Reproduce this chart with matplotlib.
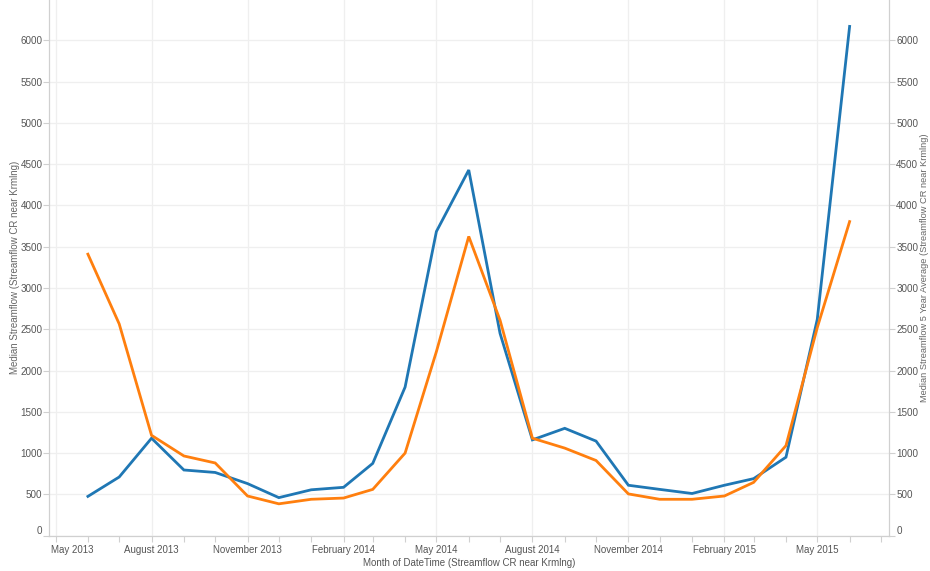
import matplotlib
matplotlib.use('Agg')
from matplotlib import pyplot as plt
import matplotlib.dates as mdates
from matplotlib.transforms import ScaledTranslation
import pandas as pd

months = pd.date_range('2013-06-01', '2015-06-01', freq='MS')

median_flow = [475, 710, 1180, 795, 765, 630, 460, 555, 585, 875, 1800, 3685,
               4430, 2450, 1160, 1300, 1145, 610, 560, 510, 610, 690, 950,
               2620, 6170]
avg_5yr = [3410, 2565, 1215, 965, 880, 480, 385, 440, 455, 560, 1000, 2230,
           3625, 2610, 1180, 1060, 910, 505, 440, 440, 480, 645, 1090, 2520,
           3805]

left_label = 'Median Streamflow (Streamflow CR near Krmlng)'
right_label = 'Median Streamflow 5 Year Average (Streamflow CR near Krmlng)'
x_label = 'Month of DateTime (Streamflow CR near Krmlng)'
y_ticks = list(range(0, 6001, 500))

plt.rcParams['font.family'] = ['Liberation Sans', 'DejaVu Sans']

fig = plt.figure(figsize=(9.3, 5.71), dpi=100)
ax = fig.add_axes([0.053, 0.062, 0.9032, 0.938])
ax2 = ax.twinx()

grid_c = '#efefef'
axis_c = '#d0d0d0'
tick_c = '#555555'

ax.plot(months, median_flow, color='#1f77b4', lw=2.0, solid_joinstyle='miter', zorder=3)
ax2.plot(months, avg_5yr, color='#ff7f0e', lw=2.0, solid_joinstyle='miter', zorder=3)

for a in (ax, ax2):
  a.set_ylim(0, 6490)
  a.set_yticks(y_ticks)
  a.set_xlim(pd.Timestamp('2013-04-25'), pd.Timestamp('2015-07-09'))
  for s in a.spines.values():
    s.set_color(axis_c)
    s.set_linewidth(0.8)
  a.spines['top'].set_visible(False)
  a.tick_params(axis='y', colors=axis_c, labelcolor=tick_c, labelsize=7.1,
                length=4, width=0.8, pad=1.0)

ax.xaxis.set_major_locator(mdates.MonthLocator(bymonth=[2, 5, 8, 11]))
ax.xaxis.set_major_formatter(mdates.DateFormatter('%B %Y'))
ax.xaxis.set_minor_locator(mdates.MonthLocator())
ax.tick_params(axis='x', which='both', colors=axis_c, labelcolor=tick_c,
               labelsize=7.0, length=4, width=0.8, pad=3)

fig.canvas.draw()
# first x label is pushed right to stay inside the pane, the 0 labels sit a bit higher
first = ax.get_xticklabels()[0]
first.set_horizontalalignment('left')
first.set_transform(first.get_transform() + ScaledTranslation(-0.05, 0, fig.dpi_scale_trans))
for a in (ax, ax2):
  zero = a.get_yticklabels()[0]
  zero.set_transform(zero.get_transform() + ScaledTranslation(0, 0.06, fig.dpi_scale_trans))

ax.grid(True, which='major', color=grid_c, lw=0.9)
ax.set_axisbelow(True)

ax.set_ylabel(left_label, color='#666666', fontsize=7.0, rotation=90,
              va='center', ha='center', rotation_mode='anchor')
ax.yaxis.set_label_coords(-0.0414, 0.5)
ax2.set_ylabel(right_label, color='#666666', fontsize=6.7, rotation=90,
               va='center', ha='center', rotation_mode='anchor')
ax2.yaxis.set_label_coords(1.0415, 0.5)
ax.set_xlabel(x_label, color='#555555', fontsize=7.0, va='center')
ax.xaxis.set_label_coords(0.5, -0.0508)

fig.savefig('out.png', dpi=100)
